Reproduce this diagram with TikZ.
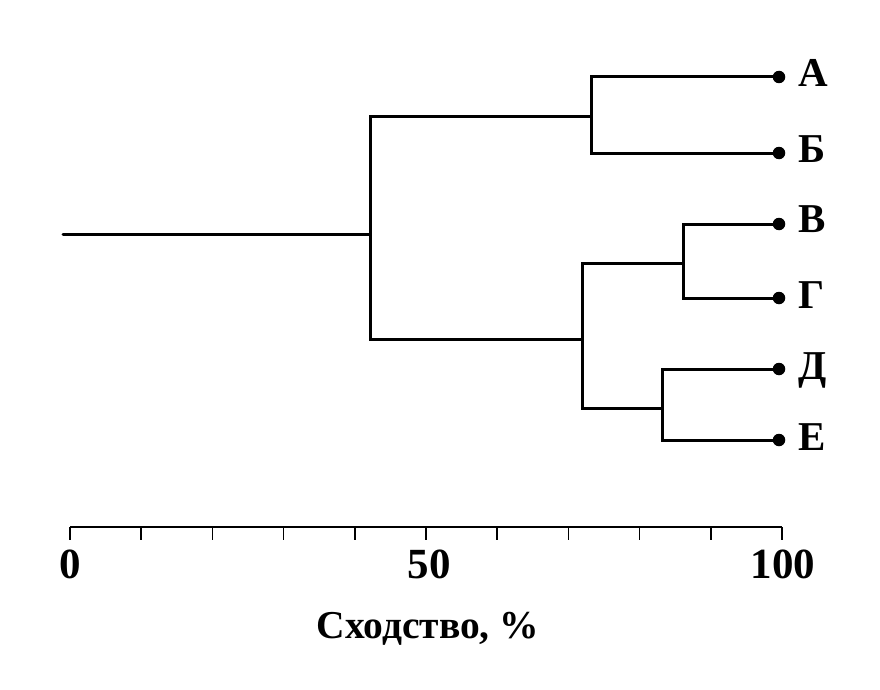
\documentclass[tikz,border=0pt]{standalone}
\usepackage{fontspec}
\setmainfont{Liberation Serif}
\usetikzlibrary{calc}
\begin{document}
\begin{tikzpicture}[x=1pt,y=-1pt,
  link/.style={line width=3pt,line cap=round,line join=miter},
  leafdot/.style={circle,fill=black,inner sep=0pt,minimum size=12.5pt},
  leaflab/.style={anchor=base west,inner sep=0pt,font=\fontsize{41}{48}\selectfont\bfseries},
  ticklab/.style={anchor=base,inner sep=0pt,font=\fontsize{43}{50}\selectfont\bfseries},
  axlab/.style={anchor=base,inner sep=0pt,font=\fontsize{39.5}{46}\selectfont\bfseries}]
\useasboundingbox (0,0) rectangle (880,690);
% leaves
\node[leafdot] (A) at (779,77) {};
\node[leafdot] (B) at (779,153) {};
\node[leafdot] (V) at (779,224) {};
\node[leafdot] (G) at (779,298) {};
\node[leafdot] (D) at (779,369) {};
\node[leafdot] (E) at (779,440) {};
\node[leaflab] (lA) at (798,87) {А};
\node[leaflab] (lB) at (798,162) {Б};
\node[leaflab] (lV) at (798,232) {В};
\node[leaflab] (lG) at (798,308) {Г};
\node[leaflab] (lD) at (798,379) {Д};
\node[leaflab] (lE) at (798,450) {Е};
% internal joins
\coordinate (nAB) at (591,117);
\coordinate (nVG) at (683,263);
\coordinate (nDE) at (662,408);
\coordinate (nL) at (582,339);
\coordinate (root) at (370,234);
\coordinate (start) at (63,234);
\draw[link] (nAB) |- (A);
\draw[link] (nAB) |- (B);
\draw[link] (nVG) |- (V);
\draw[link] (nVG) |- (G);
\draw[link] (nDE) |- (D);
\draw[link] (nDE) |- (E);
\draw[link] (nL) |- (nVG);
\draw[link] (nL) |- (nDE);
\draw[link] (root) |- (nAB);
\draw[link] (root) |- (nL);
\draw[link] (start) -- (root);
% axis
\coordinate (ax0) at (70,527);
\coordinate (ax100) at (782,527);
\draw[line width=2.4pt] (ax0) -- (ax100);
\foreach \i in {0,...,10} {
  \draw[line width=1.6pt] ($(ax0)!\i/10!(ax100)$) -- ++(0,13);
}
\node[ticklab] (t0) at (70,578) {0};
\node[ticklab] (t50) at (429,578) {50};
\node[ticklab] (t100) at (783,578) {100};
\node[axlab] (title) at (428,638) {Сходство, \%};
\end{tikzpicture}
\end{document}
